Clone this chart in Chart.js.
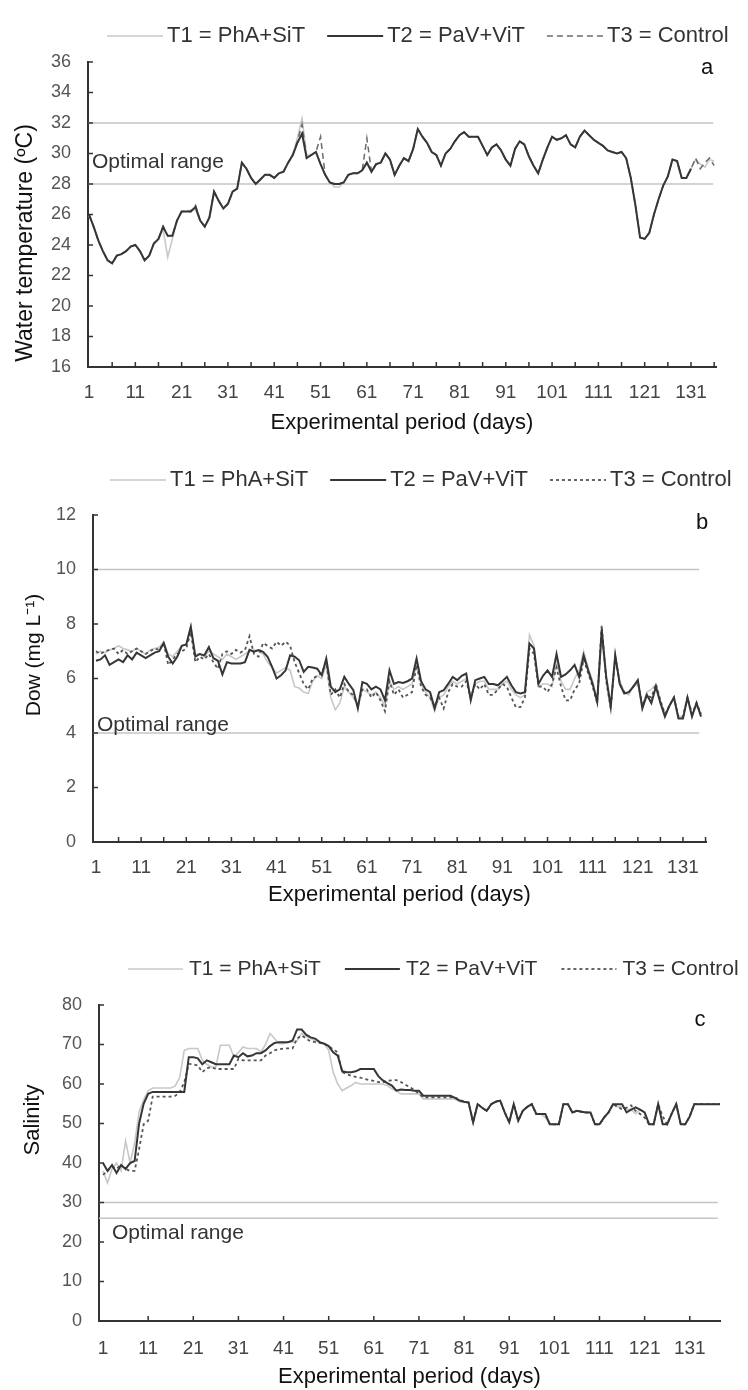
<!DOCTYPE html>
<html>
<head>
<meta charset="utf-8">
<title>Water quality during the experimental period</title>
<script src="https://cdn.jsdelivr.net/npm/chart.js@4.4.1/dist/chart.umd.min.js"></script>
<style>
  body { margin: 0; background: #fff; width: 748px; height: 1390px; position: relative; overflow: hidden; }
  .panel { position: absolute; left: 0; width: 748px; }
</style>
</head>
<body>
<div class="panel" style="top:0;height:445px"><canvas id="tempChart"></canvas></div>
<div class="panel" style="top:450px;height:460px"><canvas id="doChart"></canvas></div>
<div class="panel" style="top:935px;height:455px"><canvas id="salChart"></canvas></div>

<script>
const FONT = "'Liberation Sans', Arial, sans-serif";
Chart.defaults.font.family = FONT;
Chart.defaults.animation = false;

// ---- data ----
const seriesNames = ["T1 = PhA+SiT", "T2 = PaV+ViT", "T3 = Control"];
const dayLabels = [1, 11, 21, 31, 41, 51, 61, 71, 81, 91, 101, 111, 121, 131];

// a) water temperature (ºC)
const tempDays = Array.from({ length: 136 }, (_, i) => i + 1);
const tempT2 = [
  26.0, 25.2, 24.3, 23.6, 23.0, 22.8, 23.3, 23.4, 23.6, 23.9,
  24.0, 23.6, 23.0, 23.3, 24.1, 24.4, 25.2, 24.6, 24.6, 25.6,
  26.2, 26.2, 26.2, 26.5, 25.6, 25.2, 25.8, 27.5, 26.9, 26.4,
  26.7, 27.5, 27.7, 29.4, 29.0, 28.4, 28.0, 28.3, 28.6, 28.6,
  28.4, 28.7, 28.8, 29.4, 29.9, 30.7, 31.3, 29.7, 29.9, 30.1,
  29.3, 28.6, 28.1, 28.0, 28.0, 28.1, 28.6, 28.7, 28.7, 28.9,
  29.4, 28.8, 29.3, 29.4, 30.0, 29.6, 28.6, 29.2, 29.7, 29.5,
  30.3, 31.6, 31.1, 30.7, 30.1, 29.9, 29.2, 30.0, 30.3, 30.8,
  31.2, 31.4, 31.1, 31.1, 31.1, 30.5, 29.9, 30.4, 30.6, 30.2,
  29.6, 29.2, 30.3, 30.8, 30.6, 29.8, 29.2, 28.7, 29.6, 30.4,
  31.1, 30.9, 31.0, 31.2, 30.6, 30.4, 31.1, 31.5, 31.2, 30.9,
  30.7, 30.5, 30.2, 30.1, 30.0, 30.1, 29.7, 28.4, 26.6, 24.5,
  24.4, 24.8, 26.0, 27.0, 27.9, 28.5, 29.6, 29.5, 28.4, 28.4,
  29.0, null, null, null, null, null
];
const tempT1 = [
  25.9, 25.2, 24.3, 23.6, 23.0, 22.8, 23.3, 23.4, 23.6, 23.9,
  24.0, 23.6, 23.0, 23.3, 24.1, 24.4, 25.0, 23.2, 24.4, 25.6,
  26.2, 26.2, 26.3, 26.3, 25.6, 25.2, 25.8, 27.4, 26.9, 26.4,
  26.7, 27.5, 27.7, 29.3, 29.0, 28.4, 28.0, 28.3, 28.6, 28.6,
  28.4, 28.7, 28.8, 29.4, 29.9, 31.0, 32.3, 29.9, 29.9, 30.1,
  29.3, 28.6, 28.1, 27.8, 27.8, 28.1, 28.6, 28.7, 28.7, 28.9,
  29.4, 28.8, 29.3, 29.4, 30.0, 29.6, 28.6, 29.2, 29.7, 29.5,
  30.3, 31.6, 31.1, 30.7, 30.1, 29.9, 29.2, 30.0, 30.3, 30.8,
  31.2, 31.4, 31.1, 31.1, 31.1, 30.5, 29.9, 30.4, 30.6, 30.2,
  29.6, 29.2, 30.3, 30.8, 30.6, 29.9, 29.2, 28.7, 29.6, 30.4,
  31.1, 30.9, 31.0, 31.2, 30.6, 30.4, 31.1, 31.5, 31.2, 30.9,
  30.7, 30.5, 30.2, 30.1, 30.0, 30.1, 29.7, 28.4, 26.6, 24.5,
  24.4, 24.8, 26.0, 27.0, 27.9, 28.5, 29.6, 29.5, 28.4, 28.4,
  29.0, 29.6, 29.3, 29.1, 29.6, 29.5
];
const tempT3 = [
  26.0, 25.2, 24.3, 23.6, 23.0, 22.8, 23.3, 23.4, 23.6, 23.9,
  24.0, 23.6, 23.0, 23.3, 24.1, 24.4, 25.2, 24.6, 24.6, 25.6,
  26.2, 26.2, 26.2, 26.6, 25.6, 25.2, 25.8, 27.5, 26.9, 26.4,
  26.7, 27.5, 27.7, 29.4, 29.0, 28.4, 28.0, 28.3, 28.6, 28.6,
  28.4, 28.7, 28.8, 29.4, 29.9, 30.8, 31.9, 29.7, 29.9, 30.1,
  31.1, 28.6, 28.1, 28.0, 28.0, 28.1, 28.6, 28.7, 28.7, 28.9,
  31.0, 28.8, 29.3, 29.4, 30.0, 29.6, 28.6, 29.2, 29.7, 29.5,
  30.3, 31.6, 31.1, 30.7, 30.1, 29.9, 29.2, 30.0, 30.3, 30.8,
  31.2, 31.4, 31.1, 31.1, 31.1, 30.5, 29.9, 30.4, 30.6, 30.2,
  29.6, 29.2, 30.3, 30.8, 30.6, 29.8, 29.2, 28.7, 29.6, 30.4,
  31.1, 30.9, 31.0, 31.2, 30.6, 30.4, 31.1, 31.5, 31.2, 30.9,
  30.7, 30.5, 30.2, 30.1, 30.0, 30.1, 29.7, 28.4, 26.6, 24.5,
  24.4, 24.8, 26.0, 27.0, 27.9, 28.5, 29.6, 29.5, 28.4, 28.4,
  29.0, 29.7, 29.0, 29.4, 29.7, 29.2
];
const tempOptimal = [28, 32];

// b) dissolved oxygen (mg L-1)
const doDays = Array.from({ length: 135 }, (_, i) => i + 1);
const doT2 = [
  6.65, 6.7, 6.85, 6.5, 6.6, 6.7, 6.6, 6.85, 6.7, 6.95,
  6.85, 6.75, 6.85, 6.95, 7.0, 7.3, 6.8, 6.55, 6.8, 7.2,
  7.25, 7.9, 6.8, 6.9, 6.85, 7.15, 6.75, 6.65, 6.15, 6.6,
  6.55, 6.55, 6.55, 6.6, 7.05, 6.98, 7.04, 6.98, 6.8, 6.43,
  6.0, 6.12, 6.3, 6.85, 6.8, 6.67, 6.24, 6.43, 6.4, 6.36,
  6.12, 6.73, 5.7, 5.5, 5.6, 6.06, 5.8, 5.57, 4.9, 5.87,
  5.8, 5.6, 5.7, 5.6, 5.2, 6.3, 5.8, 5.87, 5.84, 5.9,
  6.0, 6.73, 5.9, 5.6, 5.5, 4.9, 5.5, 5.57, 5.8, 6.06,
  5.94, 6.1, 6.18, 5.2, 5.94, 6.0, 6.06, 5.8, 5.8, 5.75,
  5.9, 6.06, 5.75, 5.5, 5.45, 5.5, 7.28, 7.1, 5.8, 6.1,
  6.3, 6.06, 6.9, 6.06, 6.15, 6.3, 6.5, 6.06, 6.85, 6.3,
  5.8, 5.14, 7.8, 6.06, 4.96, 6.85, 5.8, 5.45, 5.5, 5.7,
  5.94, 4.9, 5.4, 5.1, 5.7, 5.1, 4.6, 5.0, 5.3, 4.53,
  4.53, 5.3, 4.6, 5.1, 4.6
];
const doT1 = [
  6.9, 7.0, 6.95, 7.05, 7.1, 7.2, 7.1, 7.05, 7.0, 7.1,
  7.0, 6.9, 7.05, 7.1, 7.15, 7.35, 6.9, 6.8, 7.0, 7.2,
  7.25, 7.9, 6.9, 6.9, 6.8, 7.0, 6.9, 6.8, 6.7, 6.9,
  6.8, 6.7, 6.8, 6.9, 7.0, 7.05, 7.0, 6.9, 6.6, 6.4,
  6.2, 6.3, 6.4, 6.3, 5.7, 5.65, 5.5, 5.45, 5.9, 6.1,
  6.0, 6.5, 5.3, 4.85, 5.1, 5.7, 5.5, 5.3, 5.0, 5.6,
  5.5, 5.4, 5.5, 5.3, 5.0, 5.9, 5.6, 5.7, 5.6, 5.7,
  5.8, 6.5, 5.8, 5.5, 5.3, 4.8, 5.3, 5.4, 5.7, 5.9,
  5.8, 5.9, 6.0, 5.3, 5.8, 5.9, 5.9, 5.6, 5.6, 5.6,
  5.8, 5.9, 5.6, 5.4, 5.3, 5.4, 7.6, 7.2, 5.7, 5.8,
  5.8, 5.7, 6.6, 5.9, 5.6, 5.6, 6.0, 6.3, 7.0, 6.4,
  5.9, 5.2, 7.5, 6.0, 5.0, 6.8, 5.9, 5.5, 5.4, 5.7,
  5.8, 5.0, 5.5, 5.6, 5.8, 5.2, 4.7, 5.0, 5.3, 4.6,
  4.6, 5.3, 4.7, 5.0, 4.7
];
const doT3 = [
  7.0, 6.9, 7.0, 7.05, 7.1, 6.9, 7.05, 6.9, 7.0, 7.1,
  7.0, 6.9, 7.0, 7.1, 7.05, 7.3, 6.5, 6.7, 6.9, 7.0,
  7.1, 7.7, 6.6, 6.8, 6.7, 6.9, 6.6, 6.35, 6.9, 7.0,
  6.9, 7.05, 6.95, 7.05, 7.55, 6.9, 6.8, 7.3, 7.2, 7.1,
  7.35, 7.2, 7.35, 7.2, 6.6, 6.2, 5.8, 5.6, 6.0, 6.1,
  6.2, 6.6, 5.4, 5.6, 5.3, 5.8, 5.5, 5.4, 5.0, 5.6,
  5.6, 5.3, 5.5, 5.2, 4.8, 5.9, 5.4, 5.6, 5.3, 5.4,
  5.5, 6.5, 5.7, 5.4, 5.3, 5.0, 5.3, 4.9, 5.5, 5.8,
  5.7, 5.7, 5.9, 5.3, 5.8, 5.6, 5.8, 5.4, 5.4, 5.6,
  5.8, 5.7, 5.3, 4.95, 4.95, 5.3, 7.1, 6.9, 5.7, 5.7,
  5.5, 5.8, 6.4, 5.7, 5.2, 5.2, 5.6, 5.8, 6.7, 6.2,
  5.7, 5.1, 7.95, 5.9, 4.9, 6.8, 5.8, 5.5, 5.5, 5.7,
  5.9, 5.0, 5.4, 5.3, 5.8, 5.2, 4.7, 5.0, 5.3, 4.6,
  4.6, 5.3, 4.7, 5.1, 4.7
];
const doOptimal = [4, 10];

// c) salinity
const salDays = Array.from({ length: 138 }, (_, i) => i + 1);
const salT2 = [
  40, 38, 39.5, 37.5, 39.5, 38.5, 40, 40.5, 50, 55,
  57.5, 58, 58, 58, 58, 58, 58, 58, 58, 66.8,
  66.8, 66.5, 65, 66, 65.5, 65, 65, 65, 65, 67.2,
  66.8, 67.8, 67, 67.2, 67.8, 67.8, 68.5, 69.6, 70.4, 70.6,
  70.6, 70.6, 71, 73.8, 73.8, 72.5, 71.8, 71.5, 70.6, 70.2,
  69.6, 68, 67.2, 63.2, 63, 63, 63.2, 63.8, 63.8, 63.8,
  63.8, 62, 60.9, 60.2, 59.6, 58.3, 58.6, 58.5, 58.5, 58.3,
  58.3, 57, 57, 57, 57, 57, 57, 57, 56.5, 55.8,
  55.5, 55.3, 50.3, 54.9, 54, 53.2, 54.9, 55.5, 55.8, 52.8,
  50.3, 54.9, 50.7, 53.2, 54.2, 54.9, 52.4, 52.4, 52.4, 49.8,
  49.8, 49.8, 54.9, 54.9, 52.8, 53.2, 53, 52.8, 52.8, 49.8,
  49.8, 51.5, 52.8, 54.9, 54.9, 54.9, 52.8, 53.5, 54.1, 53.5,
  52.8, 49.8, 49.8, 54.9, 49.8, 49.8, 52.5, 54.9, 49.8, 49.8,
  51.8, 54.9, 54.9, 54.9, 54.9, 54.9, 54.9, 54.9
];
const salT1 = [
  38, 35, 38.5, 40, 38, 45.6, 40, 45, 53, 56,
  58.3, 59, 59, 59, 59, 59, 59.5, 61.7, 68.5, 69,
  69, 69, 66, 65, 64.3, 64.3, 69.8, 69.8, 69.8, 66.8,
  68, 69.4, 69, 69, 69, 68.1, 70, 72.8, 71.5, 70.2,
  70.2, 70.6, 70.6, 71, 72.8, 72, 71.5, 71, 70.6, 70.2,
  68.5, 63, 60, 58.3, 59, 59.6, 60.4, 60, 60, 60,
  60, 60, 60, 59.6, 58.8, 58.3, 57.5, 57.5, 57.5, 57.5,
  57.5, 56.2, 56.2, 56.2, 56.2, 56.2, 56.2, 56.2, 56.2, 55.5,
  55.3, 55.3, 50.3, 54.9, 54, 53.2, 54.9, 55.5, 55.8, 52.8,
  50.3, 54.9, 50.7, 53.2, 54.2, 54.9, 52.4, 52.4, 51.5, 49.8,
  49.8, 49.8, 54.9, 54.9, 52.8, 53.2, 53, 52.8, 52.8, 49.8,
  49.8, 51.5, 52.8, 54.9, 54.2, 54.2, 53.6, 53.5, 52.5, 53.5,
  52.8, 49.8, 49.8, 54.9, 49.8, 49.8, 52.5, 54.9, 49.8, 49.8,
  51.8, 54.9, 54.9, 54.9, 54.9, 54.9, 54.9, 54.9
];
const salT3 = [
  37, 38, 39, 38.5, 39.5, 38.5, 38, 38, 43.5, 49.8,
  50.7, 56.8, 56.8, 56.8, 56.8, 56.8, 57, 58, 60.4, 65.1,
  65, 64.7, 63, 64, 64.3, 63.8, 63.8, 63.8, 63.8, 63.8,
  66.4, 66, 66, 66, 66, 66, 67.2, 67.8, 68.5, 68.8,
  69, 69, 69, 71.5, 72.3, 71.5, 70.8, 70.6, 70.4, 70.2,
  69.5, 68.8, 68, 63, 62.5, 62.1, 61.8, 61.6, 61.3, 61,
  60.8, 60.5, 60.4, 60.8, 60.9, 61, 60.5, 59.8, 59.2, 58.5,
  57.5, 56.6, 56.6, 56.6, 56.6, 56.6, 56.6, 56.6, 56.6, 56,
  55.5, 55.3, 50.3, 54.9, 54, 53.2, 54.9, 55.5, 55.8, 52.8,
  50.3, 54.9, 50.7, 53.2, 54.2, 54.9, 52.4, 52.4, 52.4, 49.8,
  49.8, 49.8, 54.9, 54.9, 52.8, 53.2, 53, 52.8, 52.8, 49.8,
  49.8, 51.5, 52.8, 54.9, 54.2, 53.6, 54, 54.6, 53.2, 52.4,
  51.5, 49.8, 49.8, 54.9, 51.8, 49.8, 52.5, 54.9, 49.8, 49.8,
  51.8, 54.9, 54.9, 54.9, 54.9, 54.9, 54.9, 54.9
];
const salOptimal = [26, 30];

// tick marks along the x axis
const marksEvery5 = Array.from({ length: 27 }, (_, i) => 6 + i * 5);
const marksEvery10 = Array.from({ length: 13 }, (_, i) => 11 + i * 10);

// ---- drawing helpers ----
function pts(days, vals) {
  return days.map((d, i) => ({ x: d, y: vals[i] }));
}

const styleT1 = { borderColor: "#c8c8c8", borderWidth: 1.6, order: 2 };
const styleT2 = { borderColor: "#363636", borderWidth: 2, order: 0 };
const styleT3dash = { borderColor: "#6a6a6a", borderWidth: 1.5, borderDash: [6, 4], order: 1 };
const styleT3dot = { borderColor: "#555", borderWidth: 1.8, borderDash: [3, 3], order: 1 };

function lineSet(label, days, vals, style) {
  return Object.assign({ label, data: pts(days, vals), pointRadius: 0, tension: 0, fill: false }, style);
}

// optimal range lines, inward tick marks, side title, panel letter, legend
const panelDecor = {
  id: "panelDecor",
  beforeDatasetsDraw(chart, args, o) {
    const { ctx, chartArea: a, scales: { x, y } } = chart;
    ctx.save();
    ctx.strokeStyle = "#c4c4c4";
    ctx.lineWidth = 1.6;
    o.optimal.forEach(v => {
      const py = y.getPixelForValue(v);
      ctx.beginPath();
      ctx.moveTo(a.left, py);
      ctx.lineTo(x.getPixelForValue(o.lineEnd), py);
      ctx.stroke();
    });
    ctx.restore();
  },
  afterDraw(chart, args, o) {
    const { ctx, chartArea: a, scales: { x, y } } = chart;
    ctx.save();

    ctx.strokeStyle = "#333";
    ctx.lineWidth = 1.5;
    o.xMarks.forEach(d => {
      const px = x.getPixelForValue(d);
      ctx.beginPath();
      ctx.moveTo(px, a.bottom);
      ctx.lineTo(px, a.bottom - 5);
      ctx.stroke();
    });
    y.ticks.forEach(t => {
      if (t.value === y.min) return;
      const py = y.getPixelForValue(t.value);
      ctx.beginPath();
      ctx.moveTo(a.left, py);
      ctx.lineTo(a.left + 5, py);
      ctx.stroke();
    });

    ctx.textBaseline = "middle";
    ctx.fillStyle = "#333";
    ctx.textAlign = "left";
    ctx.font = "21px " + FONT;
    ctx.fillText("Optimal range", a.left + o.rangeText.dx, y.getPixelForValue(o.rangeText.v));

    ctx.fillStyle = "#111";
    ctx.textAlign = "center";
    ctx.font = "22px " + FONT;
    ctx.fillText(o.letter.text, o.letter.x, o.letter.y);

    ctx.save();
    ctx.translate(o.yTitle.x, o.yTitle.y);
    ctx.rotate(-Math.PI / 2);
    ctx.font = o.yTitle.size + "px " + FONT;
    ctx.fillText(o.yTitle.text, 0, 0);
    ctx.restore();

    // legend, in series order T1, T2, T3
    const lg = o.legend;
    let lx = lg.x;
    ctx.font = lg.size + "px " + FONT;
    ctx.textAlign = "left";
    ctx.fillStyle = "#333";
    chart.data.datasets.forEach(ds => {
      ctx.save();
      ctx.strokeStyle = ds.borderColor;
      ctx.lineWidth = ds.borderWidth;
      ctx.setLineDash(ds.borderDash || []);
      ctx.beginPath();
      ctx.moveTo(lx, lg.y);
      ctx.lineTo(lx + lg.line, lg.y);
      ctx.stroke();
      ctx.restore();
      lx += lg.line + lg.gap;
      ctx.fillText(ds.label, lx, lg.y);
      lx += ctx.measureText(ds.label).width + lg.space;
    });
    ctx.restore();
  }
};

function makeChart(id, p) {
  return new Chart(document.getElementById(id), {
    type: "line",
    data: {
      datasets: [
        lineSet(seriesNames[0], p.days, p.t1, styleT1),
        lineSet(seriesNames[1], p.days, p.t2, styleT2),
        lineSet(seriesNames[2], p.days, p.t3, p.t3Style)
      ]
    },
    options: {
      responsive: true,
      maintainAspectRatio: false,
      layout: { padding: { top: p.top, right: p.right, left: 0, bottom: 0 } },
      plugins: {
        legend: { display: false },
        tooltip: { enabled: false },
        panelDecor: p.decor
      },
      scales: {
        x: {
          type: "linear",
          min: p.xMin,
          max: p.xMax,
          afterBuildTicks: s => { s.ticks = dayLabels.map(v => ({ value: v })); },
          afterFit: s => { s.height = p.xHeight; },
          grid: { display: false, drawTicks: false },
          border: { display: true, color: "#333", width: 2 },
          ticks: { autoSkip: false, maxRotation: 0, padding: p.xPad, color: "#444", font: { size: 19 } },
          title: {
            display: true,
            text: "Experimental period (days)",
            color: "#111",
            font: { size: 22 },
            padding: { top: 0, bottom: p.titlePad }
          }
        },
        y: {
          min: p.yMin,
          max: p.yMax,
          afterFit: s => { s.width = p.yWidth; },
          grid: { display: false, drawTicks: false },
          border: { display: true, color: "#333", width: 2 },
          ticks: { stepSize: p.yStep, padding: 17, color: "#555", font: { size: 18 } }
        }
      }
    },
    plugins: [panelDecor]
  });
}

// Panel a: water temperature
makeChart("tempChart", {
  days: tempDays, t1: tempT1, t2: tempT2, t3: tempT3, t3Style: styleT3dash,
  top: 62, right: 32, xHeight: 78, yWidth: 88, xPad: 14, titlePad: 9,
  xMin: 0.78, xMax: 136.4, yMin: 16, yMax: 36, yStep: 2,
  decor: {
    optimal: tempOptimal, lineEnd: 135.8, xMarks: marksEvery5,
    rangeText: { dx: 4, v: 29.4 },
    letter: { text: "a", x: 707, y: 68 },
    yTitle: { text: "Water temperature (ºC)", x: 26, y: 243, size: 23 },
    legend: { x: 107, y: 36, line: 56, gap: 4, space: 22, size: 22 }
  }
});

// Panel b: dissolved oxygen
makeChart("doChart", {
  days: doDays, t1: doT1, t2: doT2, t3: doT3, t3Style: styleT3dot,
  top: 65, right: 42, xHeight: 68, yWidth: 93, xPad: 14, titlePad: 2,
  xMin: 0.34, xMax: 136.1, yMin: 0, yMax: 12, yStep: 2,
  decor: {
    optimal: doOptimal, lineEnd: 134.6, xMarks: marksEvery5,
    rangeText: { dx: 4, v: 4.3 },
    letter: { text: "b", x: 702, y: 73 },
    yTitle: { text: "Dow (mg L\u207B\u00B9)", x: 34, y: 205, size: 21 },
    legend: { x: 110, y: 30, line: 56, gap: 4, space: 22, size: 22 }
  }
});

// Panel c: salinity
makeChart("salChart", {
  days: salDays, t1: salT1, t2: salT2, t3: salT3, t3Style: styleT3dot,
  top: 70, right: 28, xHeight: 69, yWidth: 99, xPad: 16, titlePad: 0,
  xMin: 0.11, xMax: 137.7, yMin: 0, yMax: 80, yStep: 10,
  decor: {
    optimal: salOptimal, lineEnd: 137.2, xMarks: marksEvery10,
    rangeText: { dx: 13, v: 22.3 },
    letter: { text: "c", x: 700, y: 85 },
    yTitle: { text: "Salinity", x: 33, y: 185, size: 22 },
    legend: { x: 128, y: 34, line: 55, gap: 6, space: 24, size: 21 }
  }
});
</script>
</body>
</html>
